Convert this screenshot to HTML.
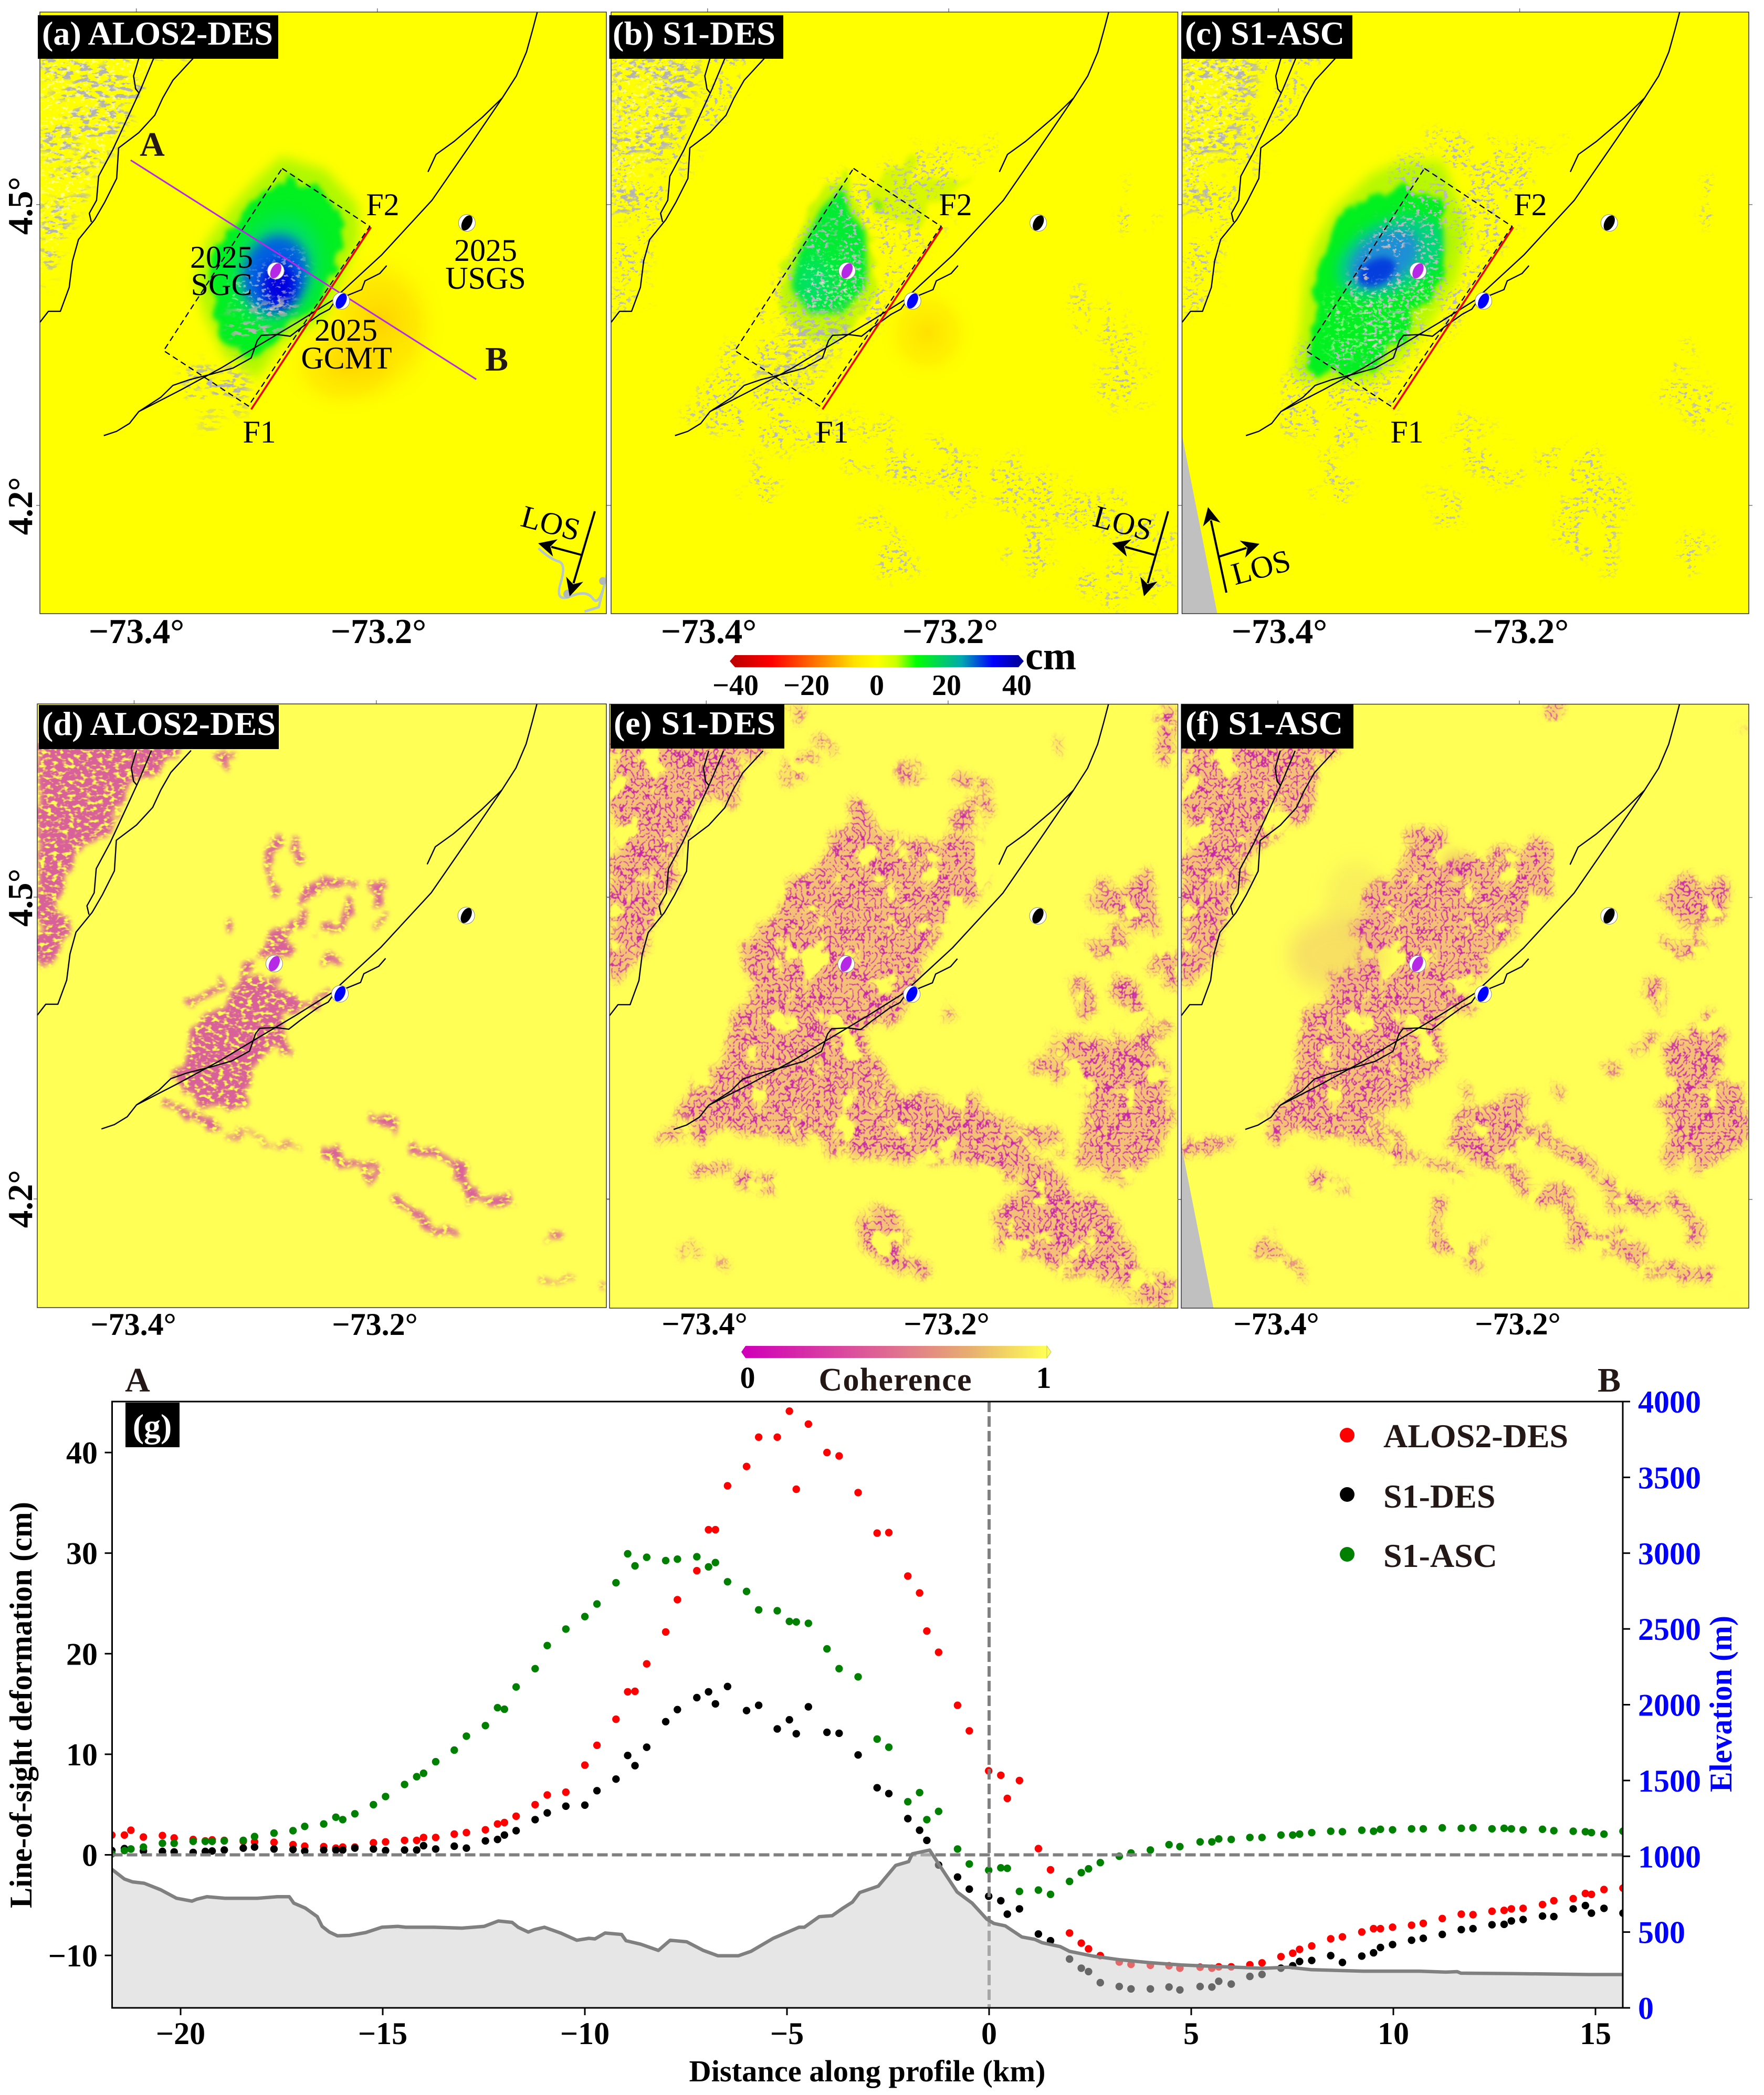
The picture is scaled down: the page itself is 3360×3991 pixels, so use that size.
<!DOCTYPE html>
<html><head><meta charset="utf-8"><title>InSAR deformation and coherence</title>
<style>
html,body{margin:0;padding:0;background:#fff}
svg{display:block}
text{font-family:"Liberation Serif",serif}
.b{font-weight:bold}
.lab{font-weight:bold;font-size:64px;fill:#fff}
.tk{font-weight:bold;font-size:67px;fill:#000;text-anchor:middle}
.tk2{font-weight:bold;font-size:60px;fill:#000;text-anchor:middle}
.ann{font-size:60px;fill:#000;text-anchor:middle}
.ltr{font-size:66px;font-weight:bold;fill:#231815;text-anchor:middle}
.leg{font-size:64px;font-weight:bold;fill:#231815}
</style></head><body>
<svg id="root" xmlns="http://www.w3.org/2000/svg" width="3360" height="3991" viewBox="0 0 3360 3991">
<defs>
<filter id="b8" filterUnits="userSpaceOnUse" x="0" y="0" width="1700" height="1700"><feGaussianBlur stdDeviation="8"/></filter>
<filter id="b14" filterUnits="userSpaceOnUse" x="0" y="0" width="1700" height="1700"><feGaussianBlur stdDeviation="14"/></filter>
<filter id="b25" filterUnits="userSpaceOnUse" x="0" y="0" width="1700" height="1700"><feGaussianBlur stdDeviation="25"/></filter>
<filter id="wob" filterUnits="userSpaceOnUse" x="0" y="0" width="1700" height="1700" color-interpolation-filters="sRGB">
<feTurbulence type="fractalNoise" baseFrequency="0.02" numOctaves="3" seed="4" result="lo"/>
<feDisplacementMap in="SourceGraphic" in2="lo" scale="55" xChannelSelector="R" yChannelSelector="G" result="d"/>
<feGaussianBlur in="d" stdDeviation="6"/></filter>
<filter id="spk" filterUnits="userSpaceOnUse" x="0" y="0" width="1700" height="1700" color-interpolation-filters="sRGB">
<feGaussianBlur in="SourceGraphic" stdDeviation="14" result="b0"/>
<feTurbulence type="fractalNoise" baseFrequency="0.006 0.022" numOctaves="3" seed="14" result="lo"/>
<feColorMatrix in="lo" values="0 0 0 0 0 0 0 0 0 0 0 0 0 0 0 0 0 0 9 -3.7" result="gate"/>
<feComposite in="b0" in2="gate" operator="in" result="b"/>
<feTurbulence type="fractalNoise" baseFrequency="0.045 0.11" numOctaves="3" seed="3"/>
<feColorMatrix values="0 0 0 0 .7 0 0 0 0 .7 0 0 0 0 .7 0 0 0 10 -5.0" result="n"/>
<feComposite in="n" in2="b" operator="in"/></filter>
<filter id="spkW" filterUnits="userSpaceOnUse" x="0" y="0" width="1700" height="1700" color-interpolation-filters="sRGB">
<feGaussianBlur in="SourceGraphic" stdDeviation="14" result="b"/>
<feTurbulence type="fractalNoise" baseFrequency="0.08 0.13" numOctaves="3" seed="11"/>
<feColorMatrix values="0 0 0 0 1 0 0 0 0 1 0 0 0 0 .85 0 0 0 10 -5.7" result="n"/>
<feComposite in="n" in2="b" operator="in"/></filter>
<filter id="spkF" filterUnits="userSpaceOnUse" x="0" y="0" width="1700" height="1700" color-interpolation-filters="sRGB">
<feTurbulence type="fractalNoise" baseFrequency="0.014" numOctaves="3" seed="21" result="lo"/>
<feDisplacementMap in="SourceGraphic" in2="lo" scale="130" xChannelSelector="R" yChannelSelector="G" result="d"/>
<feGaussianBlur in="d" stdDeviation="12" result="b0"/>
<feColorMatrix in="lo" values="0 0 0 0 0 0 0 0 0 0 0 0 0 0 0 0 0 0 9 -3.6" result="gate"/>
<feComposite in="b0" in2="gate" operator="in" result="b"/>
<feTurbulence type="fractalNoise" baseFrequency="0.08 0.14" numOctaves="3" seed="7"/>
<feColorMatrix values="0 0 0 0 .72 0 0 0 0 .72 0 0 0 0 .76 0 0 0 12 -6.8" result="n"/>
<feComposite in="n" in2="b" operator="in"/></filter>
<filter id="coh" filterUnits="userSpaceOnUse" x="0" y="0" width="1700" height="1700" color-interpolation-filters="sRGB">
<feTurbulence type="fractalNoise" baseFrequency="0.013" numOctaves="3" seed="2" result="lo"/>
<feDisplacementMap in="SourceGraphic" in2="lo" scale="110" xChannelSelector="R" yChannelSelector="G" result="d"/>
<feGaussianBlur in="d" stdDeviation="10" result="b0"/>
<feColorMatrix in="lo" values="0 0 0 0 0 0 0 0 0 0 0 0 0 0 0 0 0 0 8 -2.4" result="gate"/>
<feComposite in="b0" in2="gate" operator="in" result="b"/>
<feColorMatrix in="b" values="0 0 0 0 .92 0 0 0 0 .55 0 0 0 0 .58 0 0 0 .55 0" result="base"/>
<feTurbulence type="turbulence" baseFrequency="0.065" numOctaves="2" seed="5"/>
<feColorMatrix values="0 0 0 0 .78 0 0 0 0 .14 0 0 0 0 .66 0 0 0 -11 2.1"/>
<feGaussianBlur stdDeviation="0.8" result="n"/>
<feComposite in="n" in2="b" operator="in" result="lines"/>
<feMerge><feMergeNode in="base"/><feMergeNode in="lines"/></feMerge></filter>
<filter id="mott" filterUnits="userSpaceOnUse" x="0" y="0" width="1700" height="1700" color-interpolation-filters="sRGB">
<feTurbulence type="fractalNoise" baseFrequency="0.02" numOctaves="3" seed="6" result="lo"/>
<feDisplacementMap in="SourceGraphic" in2="lo" scale="60" xChannelSelector="R" yChannelSelector="G" result="d"/>
<feGaussianBlur in="d" stdDeviation="6" result="b"/>
<feTurbulence type="fractalNoise" baseFrequency="0.07 0.12" numOctaves="2" seed="9"/>
<feColorMatrix values="0 0 0 0 .85 0 0 0 0 .38 0 0 0 0 .6 0 0 0 5 -1.5" result="n"/>
<feComposite in="n" in2="b" operator="in"/></filter>
<radialGradient id="gOr"><stop offset="0" stop-color="#ffc800"/><stop offset=".55" stop-color="#ffd800" stop-opacity=".65"/><stop offset="1" stop-color="#ffff00" stop-opacity="0"/></radialGradient>
<linearGradient id="cb1"><stop offset="0" stop-color="#c00000"/><stop offset=".13" stop-color="#ff0000"/><stop offset=".3" stop-color="#ff8000"/><stop offset=".42" stop-color="#ffe000"/><stop offset=".5" stop-color="#ffff00"/><stop offset=".57" stop-color="#c8ff00"/><stop offset=".64" stop-color="#00ff00"/><stop offset=".8" stop-color="#00a8b0"/><stop offset=".91" stop-color="#0000ff"/><stop offset="1" stop-color="#0000a0"/></linearGradient>
<linearGradient id="cb2"><stop offset="0" stop-color="#d000b8"/><stop offset=".5" stop-color="#e07090"/><stop offset=".75" stop-color="#e8b070"/><stop offset="1" stop-color="#ffff55"/></linearGradient>
<clipPath id="plotClip"><rect x="213.5" y="2670" width="2877.5" height="1155"/></clipPath>
</defs>

<!-- PANEL A -->
<g>
<svg x="76" y="23" width="1079" height="1146" viewBox="99 28 1410 1382" preserveAspectRatio="none">
<rect x="99" y="28" width="1410" height="1382" fill="#ffff00"/>
<ellipse cx="945" cy="750" rx="170" ry="190" fill="url(#gOr)" opacity=".85"/>
<ellipse cx="860" cy="840" rx="170" ry="120" fill="url(#gOr)" opacity=".7"/>
<polygon points="700,360 810,390 890,470 895,550 850,640 810,730 700,790 640,870 560,820 510,730 485,650 510,560 580,470 640,410" fill="#b0f800" filter="url(#b14)"/>
<polygon points="710,410 800,430 850,500 855,560 825,640 780,715 690,770 620,825 565,790 530,715 515,650 540,565 600,500 650,445" fill="#00f020" filter="url(#wob)"/>
<ellipse cx="690" cy="620" rx="100" ry="125" transform="rotate(25 690 620)" fill="#00d890" opacity=".7" filter="url(#b25)"/>
<ellipse cx="685" cy="630" rx="80" ry="92" transform="rotate(25 685 630)" fill="#0060e0" filter="url(#b14)"/>
<ellipse cx="695" cy="655" rx="42" ry="52" fill="#0000e0" filter="url(#b14)"/>
<g filter="url(#spk)" fill="#000"><polygon points="99,100 500,100 400,190 330,270 240,410 170,530 130,640 99,660"/><polygon points="450,850 560,820 620,870 610,950 470,935"/><polygon points="560,720 720,680 760,730 640,790 590,830"/><polygon points="500,965 540,965 540,990 500,990"/></g>
<g filter="url(#spkW)" fill="#000" opacity=".6"><polygon points="99,100 400,100 330,200 250,390 170,500 99,640"/></g>
<g filter="url(#spkW)" fill="#000" opacity=".5"><polygon points="560,660 740,570 770,620 700,720 600,730"/></g>
<path d="M1340,1260 Q1370,1285 1390,1290 T1395,1340 T1420,1370 T1475,1375 T1505,1340 T1490,1395 L1455,1405" fill="none" stroke="#b8c8c8" stroke-width="6"/>
<circle cx="1412" cy="1365" r="10" fill="#b0b8b8"/><circle cx="1500" cy="1335" r="9" fill="#b0b8b8"/>
</svg>
<g id="ov0"></g>
<rect x="76" y="23" width="1079" height="1146" fill="none" stroke="#333" stroke-width="1.5"/>
<rect x="72" y="29" width="458" height="83" fill="#000"/>
<text class="lab" x="80" y="85" textLength="440">(a) ALOS2-DES</text>
<text class="ltr" x="290" y="297">A</text>
<text class="ltr" x="946" y="706">B</text>
<text class="ann" x="729" y="410">F2</text>
<text class="ann" x="494" y="843">F1</text>
<text class="ann" x="422" y="510">2025</text>
<text class="ann" x="422" y="562">SGC</text>
<text class="ann" x="659" y="649">2025</text>
<text class="ann" x="660" y="702">GCMT</text>
<text class="ann" x="925" y="497">2025</text>
<text class="ann" x="925" y="550">USGS</text>
<text class="ann" transform="translate(1044,1016) rotate(15)">LOS</text>
<text class="tk" x="260" y="1225">−73.4°</text>
<text class="tk" x="721" y="1225">−73.2°</text>
<text class="tk" transform="translate(61,392) rotate(-90)">4.5°</text>
<text class="tk" transform="translate(61,964) rotate(-90)">4.2°</text>
</g>

<!-- PANEL B -->
<g>
<svg x="1164" y="23" width="1079.5" height="1146" viewBox="20 28 1539 1382" preserveAspectRatio="none">
<rect x="20" y="28" width="1539" height="1382" fill="#ffff00"/>
<ellipse cx="880" cy="765" rx="135" ry="120" fill="url(#gOr)" opacity=".55"/>
<polygon points="660,390 680,480 730,530 740,640 720,720 620,790 540,770 480,700 490,600 560,480 610,420" fill="#c8f800" filter="url(#wob)"/>
<polygon points="700,440 760,400 850,360 840,420 1000,410 880,480 850,530 800,510 720,480" fill="#d8f800" filter="url(#wob)"/>
<polygon points="650,430 670,490 710,530 715,620 710,660 650,720 560,720 510,660 530,580 590,480" fill="#00ec30" filter="url(#b8)"/>
<polygon points="730,460 760,470 745,485" fill="#30e820" filter="url(#b8)"/>
<ellipse cx="570" cy="650" rx="50" ry="55" fill="#00d890" opacity=".6" filter="url(#b25)"/>
<g filter="url(#spkF)" fill="#000"><polygon points="20,100 440,100 340,260 230,360 130,560 100,680 20,740"/><polygon points="350,800 500,600 640,420 850,340 1040,340 900,530 760,720 650,830 520,980 280,980"/><path d="M230,930 L600,1000 L900,1080 L1200,1150 L1520,1240" stroke="#000" stroke-width="100" fill="none"/><path d="M720,1200 L820,1320 M1100,1240 L1220,1260 M1280,1330 L1540,1350 M1340,870 L1500,900 M1300,700 L1450,800 M1400,450 L1480,520 M1260,680 L1340,720 M390,1110 L460,1110" stroke="#000" stroke-width="80" fill="none"/></g>
<g filter="url(#spk)" fill="#000"><polygon points="20,120 280,120 230,260 120,420 20,560"/><polygon points="480,760 700,700 620,820 520,880 400,860"/></g>
<g filter="url(#spkW)" fill="#000" opacity=".55"><polygon points="20,130 220,130 200,240 100,400 20,500"/><polygon points="530,600 700,580 690,700 560,720"/></g>
</svg>
<g id="ov1"></g>
<rect x="1164" y="23" width="1079.5" height="1146" fill="none" stroke="#333" stroke-width="1.5"/>
<rect x="1160.5" y="29" width="331.5" height="83" fill="#000"/>
<text class="lab" x="1167" y="85" textLength="310">(b) S1-DES</text>
<text class="ann" x="1820" y="410">F2</text>
<text class="ann" x="1585" y="843">F1</text>
<text class="ann" transform="translate(2134,1016) rotate(15)">LOS</text>
<text class="tk" x="1350" y="1225">−73.4°</text>
<text class="tk" x="1810" y="1225">−73.2°</text>
</g>

<!-- PANEL C -->
<g>
<svg x="2251.5" y="23" width="1079.5" height="1146" viewBox="16 28 1511 1382" preserveAspectRatio="none">
<rect x="16" y="28" width="1511" height="1382" fill="#ffff00"/>
<polygon points="600,370 710,370 780,520 750,640 680,740 600,830 520,880 330,880 310,850 330,760 340,650 370,560 420,480 520,400" fill="#b8f800" filter="url(#b14)"/>
<polygon points="600,435 700,460 725,560 710,640 650,710 590,790 510,850 370,860 340,840 365,760 365,660 395,570 440,500 520,450" fill="#00f020" filter="url(#wob)"/>
<ellipse cx="570" cy="590" rx="150" ry="85" transform="rotate(-20 570 590)" fill="#00d090" opacity=".8" filter="url(#b14)"/>
<ellipse cx="555" cy="595" rx="100" ry="60" transform="rotate(-25 555 595)" fill="#2088e0" opacity=".9" filter="url(#b14)"/>
<ellipse cx="535" cy="625" rx="52" ry="30" transform="rotate(-20 535 625)" fill="#0030e0" opacity=".85" filter="url(#b8)"/>
<polygon points="16,1000 110,1410 16,1410" fill="#c0c0c0"/>
<g filter="url(#spkF)" fill="#000"><polygon points="16,100 430,100 340,210 220,360 130,540 90,680 16,740"/><polygon points="350,800 470,620 650,320 1000,330 900,520 760,720 650,840 520,1000 260,980"/><path d="M380,1110 L460,1115 M730,1000 L900,1090 M1000,1050 L1200,1170 M1300,870 L1460,960 M1380,450 L1450,480 M1350,800 L1390,800 M700,1170 L760,1160 M1020,1190 L1180,1260 M1360,1250 L1400,1280 M300,970 L480,1000" stroke="#000" stroke-width="90" fill="none"/></g>
<g filter="url(#spk)" fill="#000"><polygon points="16,120 230,120 190,270 110,420 16,520"/></g>
<g filter="url(#spkW)" fill="#000" opacity=".6"><polygon points="16,130 200,130 160,260 60,420 16,480"/></g>
<g filter="url(#spkW)" fill="#000" opacity=".45"><polygon points="400,680 680,620 690,700 560,820 400,820"/></g>
</svg>
<g id="ov2"></g>
<rect x="2251.5" y="23" width="1079.5" height="1146" fill="none" stroke="#333" stroke-width="1.5"/>
<rect x="2250" y="29" width="326" height="83" fill="#000"/>
<text class="lab" x="2257" y="85" textLength="304">(c) S1-ASC</text>
<text class="ann" x="2915" y="410">F2</text>
<text class="ann" x="2680" y="843">F1</text>
<text class="ann" transform="translate(2407,1100) rotate(-15)">LOS</text>
<text class="tk" x="2437" y="1225">−73.4°</text>
<text class="tk" x="2897" y="1225">−73.2°</text>
</g>

<!-- COLORBAR 1 -->
<g>
<rect x="1400" y="1248" width="540" height="23" fill="url(#cb1)"/>
<polygon points="1400,1248 1390,1259.5 1400,1271" fill="#c00000"/>
<polygon points="1940,1248 1950,1259.5 1940,1271" fill="#0000a0"/>
<text class="b" x="1953" y="1275" font-size="76">cm</text>
<g class="b" font-size="56" text-anchor="middle">
<text x="1401" y="1324">−40</text>
<text x="1536" y="1324">−20</text>
<text x="1670" y="1324">0</text>
<text x="1803" y="1324">20</text>
<text x="1937" y="1324">40</text>
</g></g>

<!-- PANEL D -->
<g>
<svg x="71" y="1341" width="1084" height="1150" viewBox="93 110 1416 1387" preserveAspectRatio="none">
<rect x="93" y="110" width="1416" height="1387" fill="#ffff55"/>
<g filter="url(#mott)" fill="#000">
<polygon points="93,170 470,170 420,250 360,280 320,300 270,410 190,450 150,560 165,680 93,715"/>
<polygon points="445,950 480,850 555,810 580,760 640,730 700,750 760,800 830,760 820,790 700,830 735,920 680,900 620,960 615,1030 520,1040 450,1000"/>
<polygon points="640,680 700,630 720,680 680,700"/>
<polygon points="905,525 955,525 950,560 920,560"/>
<path d="M690,420 L660,480 L690,550 M730,420 L745,480 M740,570 L800,525 L880,530 M840,640 L880,560 M790,620 L830,640 M680,650 L770,590 M560,625 L580,610 M620,690 L600,750 M470,790 L560,750 M805,700 L850,710 M930,630 L970,600 M420,1030 L550,1085 M910,1055 L990,1085 M1020,1135 L1090,1145 L1135,1180 L1180,1240 L1285,1255 M800,1135 L880,1165 L935,1195 M970,1240 L1050,1300 L1130,1335 M1360,1325 L1400,1335 M1490,1440 L1509,1450 M530,230 L580,240" stroke="#000" stroke-width="20" fill="none"/>
<path d="M560,1090 L750,1135 M1340,1430 L1440,1425" stroke="#000" stroke-width="10" fill="none" opacity=".7"/>
</g>
</svg>
<g id="ov3"></g>
<rect x="71" y="1341" width="1084" height="1150" fill="none" stroke="#333" stroke-width="1.5"/>
<rect x="74" y="1343" width="457" height="84" fill="#000"/>
<text class="lab" x="80" y="1400" textLength="445">(d) ALOS2-DES</text>
<text class="tk2" x="254" y="2543">−73.4°</text>
<text class="tk2" x="714" y="2543">−73.2°</text>
<text class="tk" transform="translate(61,1710) rotate(-90)">4.5°</text>
<text class="tk" transform="translate(61,2284) rotate(-90)">4.2°</text>
</g>

<!-- PANEL E -->
<g>
<svg x="1161" y="1341.5" width="1082.5" height="1150.5" viewBox="16 52 1543 1443" preserveAspectRatio="none">
<rect x="16" y="52" width="1543" height="1443" fill="#ffff55"/>
<g filter="url(#coh)" fill="#000">
<polygon points="16,130 430,130 340,260 230,340 190,450 130,600 90,660 16,690"/>
<polygon points="500,540 570,420 640,370 680,270 780,360 900,380 1040,360 1010,510 930,560 870,680 830,760 770,800 700,870 780,950 940,1020 1060,1110 1200,1200 1330,1240 1300,1280 1120,1200 960,1130 780,1130 620,1110 540,1080 380,1080 190,1060 220,970 340,900 400,720 380,620"/>
<polygon points="1200,860 1340,860 1510,830 1530,1010 1510,1130 1400,1190 1290,1150 1320,990 1230,920"/>
<polygon points="1000,960 1100,1090 1300,1220 1400,1290 1470,1410 1559,1440 1520,1490 1300,1420 1100,1340 1050,1280 1150,1200 1030,1120 960,1040"/>
<polygon points="700,1260 820,1300 860,1400 800,1420 700,1330"/>
<polygon points="1330,520 1420,460 1500,450 1510,550 1450,590"/>
<circle cx="1300" cy="750" r="36"/>
<polygon points="1480,640 1550,660 1559,720 1490,700"/>
<polygon points="370,1170 470,1175 460,1205 370,1210"/>
<polygon points="490,190 570,180 570,230 500,230"/>
<polygon points="930,750 970,780 950,800"/>
<polygon points="1490,60 1559,60 1559,190 1500,200"/>
<path d="M1220,850 L1280,890 M1160,930 L1230,940 M1310,625 L1420,630 M1380,710 L1440,770 L1520,830 M620,140 L600,155 M520,90 L540,60 M820,240 L850,210 M1100,1070 L1240,1090 M260,1150 L330,1170 M220,1360 L245,1360 M310,1380 L350,1420 M780,1400 L810,1400 M120,1100 L220,1090 M950,230 L1040,250 M1240,140 L1250,160 M1060,280 L960,330" stroke="#000" stroke-width="30" fill="none"/>
</g>
</svg>
<g id="ov4"></g>
<rect x="1161" y="1341.5" width="1082.5" height="1150.5" fill="none" stroke="#333" stroke-width="1.5"/>
<rect x="1163" y="1341.5" width="331" height="84.5" fill="#000"/>
<text class="lab" x="1169" y="1399" textLength="308">(e) S1-DES</text>
<text class="tk2" x="1342" y="2542">−73.4°</text>
<text class="tk2" x="1803" y="2542">−73.2°</text>
</g>

<!-- PANEL F -->
<g>
<svg x="2250" y="1341.5" width="1081" height="1150.5" viewBox="14 52 1513 1443" preserveAspectRatio="none">
<rect x="14" y="52" width="1513" height="1443" fill="#ffff55"/>
<ellipse cx="430" cy="650" rx="130" ry="90" fill="#e8a080" opacity=".32" filter="url(#b25)"/>
<ellipse cx="480" cy="520" rx="80" ry="90" fill="#e8c070" opacity=".25" filter="url(#b25)"/>
<ellipse cx="740" cy="440" rx="35" ry="40" fill="#e8b070" opacity=".5" filter="url(#b14)"/>
<polygon points="14,1105 100,1495 14,1495" fill="#c0c0c0"/>
<g filter="url(#coh)" fill="#000">
<polygon points="14,130 420,130 320,320 220,400 170,470 120,600 80,680 14,700"/>
<polygon points="500,560 590,440 640,340 720,370 800,430 950,390 1050,400 1000,480 920,560 850,660 810,740 740,800 690,870 700,950 620,1000 560,1060 540,1090 390,1090 230,1060 300,980 360,800 420,720 480,640"/>
<polygon points="720,1040 930,990 900,1180 860,1170 760,1120"/>
<polygon points="1290,1010 1320,880 1440,790 1470,850 1420,960 1510,1000 1525,1100 1400,1150 1310,1170 1320,1080"/>
<polygon points="1300,530 1380,470 1465,455 1470,540 1390,590"/>
<polygon points="1245,735 1310,730 1280,780 1250,770"/>
<polygon points="370,1165 490,1195 370,1210"/>
<path d="M560,1090 L760,1180 M940,1070 L1100,1150 L1180,1240 L1280,1240 M900,1190 L1040,1240 L1050,1300 L1170,1340 L1260,1385 L1330,1420 L1460,1440 M700,1230 L700,1340 L830,1330 M220,1350 L320,1400 L340,1460 M780,1395 L820,1395 M1290,630 L1400,630 M1210,880 L1270,860 M1150,925 L1180,940 M1000,960 L1040,965 M14,1110 L150,1100 M760,960 L790,990 M980,70 L1030,65 M1495,100 L1500,110 M1300,1230 L1350,1270 L1420,1330" stroke="#000" stroke-width="30" fill="none"/>
</g>
</svg>
<g id="ov5"></g>
<rect x="2250" y="1341.5" width="1081" height="1150.5" fill="none" stroke="#333" stroke-width="1.5"/>
<rect x="2250" y="1341.5" width="328" height="84.5" fill="#000"/>
<text class="lab" x="2258" y="1399" textLength="300">(f) S1-ASC</text>
<text class="tk2" x="2431" y="2542">−73.4°</text>
<text class="tk2" x="2891" y="2542">−73.2°</text>
</g>

<!-- COLORBAR 2 -->
<g>
<rect x="1420" y="2564" width="574" height="23" fill="url(#cb2)"/>
<polygon points="1420,2564 1412,2575.5 1420,2587" fill="#d000b8"/>
<polygon points="1994,2564 2002,2575.5 1994,2587" fill="#ffff55" stroke="#c8c850"/>
<text class="b" x="1424" y="2644" font-size="58" text-anchor="middle">0</text>
<text class="b" x="1988" y="2644" font-size="58" text-anchor="middle">1</text>
<text class="b" x="1705" y="2649" font-size="62" text-anchor="middle" fill="#231815" textLength="291">Coherence</text>
</g>

<!-- PANEL G -->
<g id="chart">
<g id="plotMarks" clip-path="url(#plotClip)"></g>
<g id="plotAxes"></g>
<rect x="239" y="2672" width="103" height="85" fill="#000"/>
<text class="lab" x="290" y="2738" text-anchor="middle">(g)</text>
<text class="ltr" x="262" y="2651">A</text>
<text class="ltr" x="3065" y="2651">B</text>
<text class="b" transform="translate(60,3248) rotate(-90)" text-anchor="middle" font-size="60" textLength="774" lengthAdjust="spacingAndGlyphs">Line-of-sight deformation (cm)</text>
<text class="b" transform="translate(3298,3246) rotate(-90)" text-anchor="middle" font-size="60" fill="#0000ff" textLength="336" lengthAdjust="spacingAndGlyphs">Elevation (m)</text>
<text class="b" x="1652" y="3965" text-anchor="middle" font-size="58" textLength="679" lengthAdjust="spacingAndGlyphs">Distance along profile (km)</text>
<g>
<circle cx="2566" cy="2734" r="14" fill="#ff0000"/>
<circle cx="2566" cy="2847" r="14" fill="#000"/>
<circle cx="2566" cy="2961" r="14" fill="#008000"/>
<text class="leg" x="2635" y="2757">ALOS2-DES</text>
<text class="leg" x="2635" y="2872">S1-DES</text>
<text class="leg" x="2635" y="2985">S1-ASC</text>
</g></g>
</svg>
<script>
// ---------- profile data ----------
const distanceKm=[-21.70,-21.39,-21.23,-20.92,-20.45,-20.16,-19.69,-19.39,-19.22,-18.92,-18.45,-18.17,-17.69,-17.22,-16.93,-16.46,-16.16,-15.99,-15.69,-15.23,-14.93,-14.46,-14.16,-13.99,-13.69,-13.23,-12.93,-12.46,-12.16,-11.99,-11.70,-11.23,-10.93,-10.47,-10.00,-9.70,-9.23,-8.94,-8.76,-8.47,-8.00,-7.71,-7.23,-6.94,-6.77,-6.47,-6.00,-5.70,-5.24,-4.94,-4.77,-4.47,-4.01,-3.71,-3.24,-2.77,-2.48,-2.01,-1.72,-1.54,-1.25,-0.78,-0.49,-0.01,0.29,0.45,0.75,1.22,1.52,1.99,2.28,2.46,2.75,3.22,3.51,3.99,4.45,4.72,5.22,5.51,5.68,5.99,6.45,6.75,7.22,7.51,7.68,7.98,8.45,8.74,9.22,9.51,9.68,9.98,10.45,10.74,11.21,11.68,11.97,12.44,12.74,12.92,13.21,13.69,13.97,14.45,14.75,14.90,15.21,15.68];
const alos2DesCm=[1.97,1.97,2.45,1.77,1.92,1.68,1.53,1.39,1.49,1.44,1.34,1.29,1.25,1.01,.86,.82,.67,.77,.77,1.2,1.29,1.44,1.44,1.73,1.73,2.06,2.21,2.49,3.07,3.21,3.84,4.99,5.95,6.23,8.92,10.89,13.48,16.21,16.26,18.99,22.16,25.37,28.25,32.33,32.33,36.69,38.61,41.53,41.53,44.12,36.35,42.83,40.0,39.66,36.02,31.99,32.04,27.72,26.04,22.25,20.14,14.87,12.33,8.35,7.91,5.61,7.39,.62,-1.49,-7.77,-8.78,-9.35,-10.02,-10.65,-10.89,-10.98,-11.03,-11.27,-11.17,-11.27,-11.13,-11.13,-10.93,-10.74,-10.12,-9.78,-9.40,-9.06,-8.35,-8.15,-7.67,-7.34,-7.34,-7.19,-7.0,-6.81,-6.33,-5.9,-5.95,-5.61,-5.52,-5.37,-5.32,-4.94,-4.56,-4.36,-3.84,-3.93,-3.45,-3.31];
const s1DesCm=[.43,.62,.58,.38,.34,.29,.24,.34,.38,.48,.67,.77,.58,.53,.38,.48,.48,.48,.67,.58,.43,.48,.48,.91,.58,.86,.67,1.39,1.53,1.97,2.4,3.5,4.17,4.84,4.94,6.38,7.53,9.88,8.87,10.7,13.24,14.44,15.63,16.21,15.01,16.74,14.34,14.87,12.52,13.43,12.04,14.72,12.18,12.09,9.93,6.67,6.09,3.6,2.45,1.44,-1.01,-2.21,-3.41,-4.12,-4.56,-5.9,-5.37,-7.87,-8.54,-10.36,-11.27,-11.61,-12.71,-13.09,-13.33,-13.33,-13.14,-13.43,-13.09,-13.14,-12.57,-12.85,-12.09,-11.89,-11.27,-11.03,-10.6,-10.5,-10.02,-10.7,-10.07,-9.74,-9.21,-8.92,-8.49,-8.3,-7.91,-7.43,-7.34,-6.95,-6.91,-6.57,-6.43,-6.09,-6.14,-5.37,-5.04,-5.8,-5.32,-5.8];
const s1AscCm=[.1,.43,.58,.77,1.15,1.15,1.34,1.34,1.34,1.39,1.44,1.82,2.16,2.4,2.83,3.07,3.74,3.5,4.08,4.99,5.8,7.0,7.77,8.11,9.26,10.41,11.8,12.85,14.63,14.48,16.69,18.51,20.81,22.45,23.69,24.94,27.05,29.93,28.73,29.59,29.26,29.4,29.64,28.63,29.06,27.15,26.19,24.36,24.27,23.21,23.16,23.02,20.48,18.51,17.7,11.51,10.7,5.28,6.19,3.5,4.32,.58,-.91,-1.53,-1.29,-1.34,-3.64,-3.5,-3.93,-2.64,-1.77,-1.39,-.77,-.14,.19,.48,1.01,.82,1.29,1.29,1.58,1.53,1.73,1.73,1.97,1.97,2.06,2.21,2.35,2.3,2.45,2.35,2.54,2.49,2.59,2.59,2.69,2.64,2.69,2.59,2.64,2.59,2.49,2.54,2.4,2.35,2.3,2.21,2.06,2.35];
const elevationKm=[-21.7,-21.39,-21.19,-20.9,-20.5,-20.1,-19.72,-19.6,-19.35,-18.9,-18.5,-18.1,-17.61,-17.31,-17.2,-16.92,-16.62,-16.5,-16.32,-16.12,-15.82,-15.42,-15.02,-14.63,-14.43,-13.73,-13.04,-12.49,-12.14,-11.8,-11.65,-11.4,-11.25,-11.0,-10.6,-10.2,-9.9,-9.75,-9.5,-9.09,-8.98,-8.62,-8.18,-7.89,-7.48,-7.07,-6.71,-6.2,-5.89,-5.34,-4.7,-4.57,-4.2,-3.88,-3.61,-3.38,-3.2,-2.74,-2.31,-1.99,-1.9,-1.47,-1.24,-.79,-.42,-.06,.12,.4,.81,1.13,1.31,1.76,1.99,2.58,3.22,3.95,4.75,5.55,6.76,7.4,7.96,9.26,10.65,11.3,11.58,11.67,12.97,14.83,15.68];
const elevationM=[914,850,831,822,780,723,704,717,733,723,723,723,733,733,691,659,602,538,500,475,478,497,532,538,532,532,526,538,573,564,532,500,516,532,494,446,459,455,494,484,443,420,379,446,436,379,344,344,373,459,532,532,602,608,659,698,761,803,940,965,1016,1041,946,764,691,586,557,541,468,452,430,404,373,341,318,299,283,274,261,268,252,242,242,236,239,229,226,220,220];
const xTickValues=[-20,-15,-10,-5,0,5,10,15];
const yLeftTickValues=[-10,0,10,20,30,40];
const yRightTickValues=[0,500,1000,1500,2000,2500,3000,3500,4000];
// ---------- map vector data (lon / lat) ----------
const faultMainLon=[-73.398,-73.363,-73.3297,-73.2997,-73.2663,-73.2363,-73.2297,-73.1963,-73.1547,-73.1197,-73.0963,-73.0847,-73.0763,-73.0713,-73.0673];
const faultMainLat=[4.2935,4.3152,4.3370,4.3587,4.3826,4.4052,4.4130,4.45,4.5043,4.5652,4.6065,4.6283,4.6522,4.6739,4.6922];
const faultSouthLon=[-73.427,-73.4163,-73.4057,-73.398,-73.3897,-73.3797,-73.3697,-73.3563,-73.3363,-73.3197,-73.3047,-73.2997,-73.2963,-73.283,-73.2723,-73.263,-73.248,-73.2397,-73.2347,-73.2263,-73.213,-73.2103,-73.198,-73.1923];
const faultSouthLat=[4.2696,4.2739,4.2817,4.2935,4.3,4.3078,4.3196,4.3252,4.3313,4.337,4.347,4.3643,4.3696,4.3704,4.3687,4.3774,4.3904,4.3957,4.4043,4.4087,4.4152,4.4239,4.4313,4.4391];
const faultBranchLon=[-73.158,-73.1513,-73.1363,-73.113,-73.0963];
const faultBranchLat=[4.5326,4.55,4.563,4.587,4.6065];
const faultWest1Lon=[-73.398,-73.4023,-73.4005,-73.3975];
const faultWest1Lat=[4.6457,4.6283,4.6152,4.6109];
const faultWest2Lon=[-73.3857,-73.3963,-73.4063,-73.4197,-73.4313,-73.433,-73.439,-73.4373];
const faultWest2Lat=[4.6457,4.6152,4.5891,4.5543,4.5283,4.5043,4.4913,4.4826];
const faultWest3Lon=[-73.353,-73.3697,-73.378,-73.3847,-73.398,-73.4147,-73.4163,-73.4263,-73.4347,-73.448,-73.453,-73.4557,-73.463,-73.473,-73.48];
const faultWest3Lat=[4.6457,4.6239,4.6065,4.5891,4.5717,4.5565,4.5261,4.5022,4.4848,4.4652,4.4435,4.4174,4.3935,4.3935,4.3826];
const faultLonSeries=[faultMainLon,faultSouthLon,faultBranchLon,faultWest1Lon,faultWest2Lon,faultWest3Lon];
const faultLatSeries=[faultMainLat,faultSouthLat,faultBranchLat,faultWest1Lat,faultWest2Lat,faultWest3Lat];
const modelBoxLon=[-73.279,-73.2063,-73.307,-73.3773];
const modelBoxLat=[4.5361,4.4783,4.2991,4.3543];
const ruptureLon=[-73.2053,-73.3047];
const ruptureLat=[4.4774,4.2957];
const profileLon=[-73.4047,-73.118];
const profileLat=[4.5443,4.3257];
const eventLon=[-73.2843,-73.23,-73.1257];
const eventLat=[4.4339,4.4039,4.4817];
const eventColors=['#b428e6','#0000ff','#000000'];
const lonRange=[-73.48,-73.01];
const latRange=[4.092,4.692];
const frames=[[76,23,1079,1146],[1164,23,1079.5,1146],[2251.5,23,1079.5,1146],[71,1341,1084,1150],[1161,1341.5,1082.5,1150.5],[2250,1341.5,1081,1150.5]];
const lonTicks=[-73.4,-73.2];
const latTicks=[4.5,4.2];
const NS='http://www.w3.org/2000/svg';
function mk(tag,attrs,parent){const e=document.createElementNS(NS,tag);for(const k in attrs)e.setAttribute(k,attrs[k]);parent.appendChild(e);return e;}

// ---------- draw map overlays ----------
frames.forEach(function(f,i){
  const g=document.getElementById('ov'+i);
  const X=function(lon){return f[0]+(lon-lonRange[0])/(lonRange[1]-lonRange[0])*f[2];};
  const Y=function(lat){return f[1]+(latRange[1]-lat)/(latRange[1]-latRange[0])*f[3];};
  const pts=function(lons,lats){return lons.map(function(v,j){return X(v).toFixed(1)+','+Y(lats[j]).toFixed(1);}).join(' ');};
  lonTicks.forEach(function(v){
    const t=mk('line',{x1:X(v),x2:X(v),y1:f[1]-7,y2:f[1],stroke:'#777','stroke-width':1.5},g);
    
    
  });
  latTicks.forEach(function(v){
    const a=mk('line',{x1:f[0]-7,x2:f[0],y1:Y(v),y2:Y(v),stroke:'#777','stroke-width':1.5},g);
    
    
    const b=mk('line',{x1:f[0]+f[2],x2:f[0]+f[2]+7,y1:Y(v),y2:Y(v),stroke:'#777','stroke-width':1.5},g);
    
    
  });
  faultLonSeries.forEach(function(lons,k){
    const l=mk('polyline',{points:pts(lons,faultLatSeries[k]),fill:'none',stroke:'#000','stroke-width':2.4,'stroke-linejoin':'round'},g);
    
    
  });
  if(i<3){
    const box=mk('polygon',{points:pts(modelBoxLon,modelBoxLat),fill:'none',stroke:'#000','stroke-width':2.2,'stroke-dasharray':'11 7'},g);
    
    
    const rup=mk('polyline',{points:pts(ruptureLon,ruptureLat),fill:'none',stroke:'#f00000','stroke-width':3.6},g);
    
    
  }
  if(i===0){
    const pr=mk('polyline',{points:pts(profileLon,profileLat),fill:'none',stroke:'#b428e6','stroke-width':3},g);
    
    
  }
  eventLon.forEach(function(lon,k){
    const cx=X(lon),cy=Y(eventLat[k]);
    const c=mk('circle',{cx:cx,cy:cy,r:16,fill:'#fff',stroke:'#888','stroke-width':1},g);
    
    
    const e=mk('ellipse',{cx:cx,cy:cy,rx:9,ry:15.5,transform:'rotate(27 '+cx+' '+cy+')',fill:eventColors[k]},g);
    
    
  });
});

// ---------- LOS arrows ----------
const losLong=[[1133,974,1085,1136],[2225,974,2179,1136],[2336,1129,2301,966]];
const losShort=[[1107,1057,1025,1035],[2199,1057,2118,1035],[2320,1061,2399,1036]];
const rootSvg=document.getElementById('root');
function arrow(c,nm){
  const dx=c[2]-c[0],dy=c[3]-c[1],L=Math.hypot(dx,dy),ux=dx/L,uy=dy/L,h=34,w=17;
  const bx=c[2]-ux*h,by=c[3]-uy*h;
  const ln=mk('line',{x1:c[0],y1:c[1],x2:bx+ux*8,y2:by+uy*8,stroke:'#000','stroke-width':4},rootSvg);
  
  
  const hd=mk('polygon',{points:c[2]+','+c[3]+' '+(bx-uy*w)+','+(by+ux*w)+' '+(bx+ux*10)+','+(by+uy*10)+' '+(bx+uy*w)+','+(by-ux*w),fill:'#000'},rootSvg);
  
  
}
losLong.forEach(function(c){arrow(c,'flight-direction-arrow');});
losShort.forEach(function(c){arrow(c,'los-direction-arrow');});

// ---------- profile chart ----------
const marks=document.getElementById('plotMarks');
const axes=document.getElementById('plotAxes');
const plotL=213.5,plotR=3091,plotT=2670,plotB=3825;
function xScale(km){return 1884+77*km;}
function yLeft(cm){return 3533.5-19.16*cm;}
function yRight(m){return 3825-0.28875*m;}
function drawDots(values,color,name){
  values.forEach(function(v,i){
    const d=mk('circle',{cx:xScale(distanceKm[i]).toFixed(1),cy:yLeft(v).toFixed(1),r:7.2,fill:color},marks);
    
    
  });
}
drawDots(alos2DesCm,'#ff0000','alos2-des-point');
drawDots(s1DesCm,'#000000','s1-des-point');
drawDots(s1AscCm,'#008000','s1-asc-point');
const h0=mk('line',{x1:plotL,x2:plotR,y1:yLeft(0),y2:yLeft(0),stroke:'#808080','stroke-width':6,'stroke-dasharray':'20 8'},marks);


const v0=mk('line',{x1:xScale(0),x2:xScale(0),y1:plotT,y2:plotB,stroke:'#808080','stroke-width':6,'stroke-dasharray':'20 8'},marks);


const elevPts=elevationKm.map(function(k,i){return xScale(k).toFixed(1)+','+yRight(elevationM[i]).toFixed(1);});
const fill=mk('polygon',{points:xScale(elevationKm[0])+','+plotB+' '+elevPts.join(' ')+' '+xScale(elevationKm[elevationKm.length-1])+','+plotB,fill:'#cdcdcd','fill-opacity':.5},marks);


const eln=mk('polyline',{points:elevPts.join(' '),fill:'none',stroke:'#808080','stroke-width':6.5,'stroke-linejoin':'round'},marks);


const spine=mk('rect',{x:plotL,y:plotT,width:plotR-plotL,height:plotB-plotT,fill:'none',stroke:'#000','stroke-width':3},axes);


function fmt(v){return (v<0?'\u2212':'')+Math.abs(v);}
xTickValues.forEach(function(v){
  const t=mk('line',{x1:xScale(v),x2:xScale(v),y1:plotB,y2:plotB+14,stroke:'#000','stroke-width':3},axes);
  
  
  const s=mk('text',{x:xScale(v),y:3894,'text-anchor':'middle','font-size':60,'font-weight':'bold'},axes);
  
  
  s.textContent=fmt(v);
});
yLeftTickValues.forEach(function(v){
  const t=mk('line',{x1:plotL-14,x2:plotL,y1:yLeft(v),y2:yLeft(v),stroke:'#000','stroke-width':3},axes);
  
  
  const s=mk('text',{x:186,y:yLeft(v)+21,'text-anchor':'end','font-size':60,'font-weight':'bold'},axes);
  
  
  s.textContent=fmt(v);
});
yRightTickValues.forEach(function(v){
  const t=mk('line',{x1:plotR,x2:plotR+14,y1:yRight(v),y2:yRight(v),stroke:'#000','stroke-width':3},axes);
  
  
  const s=mk('text',{x:3120,y:yRight(v)+21,'font-size':60,'font-weight':'bold',fill:'#0000ff'},axes);
  
  
  s.textContent=String(v);
});
</script>
</body></html>
